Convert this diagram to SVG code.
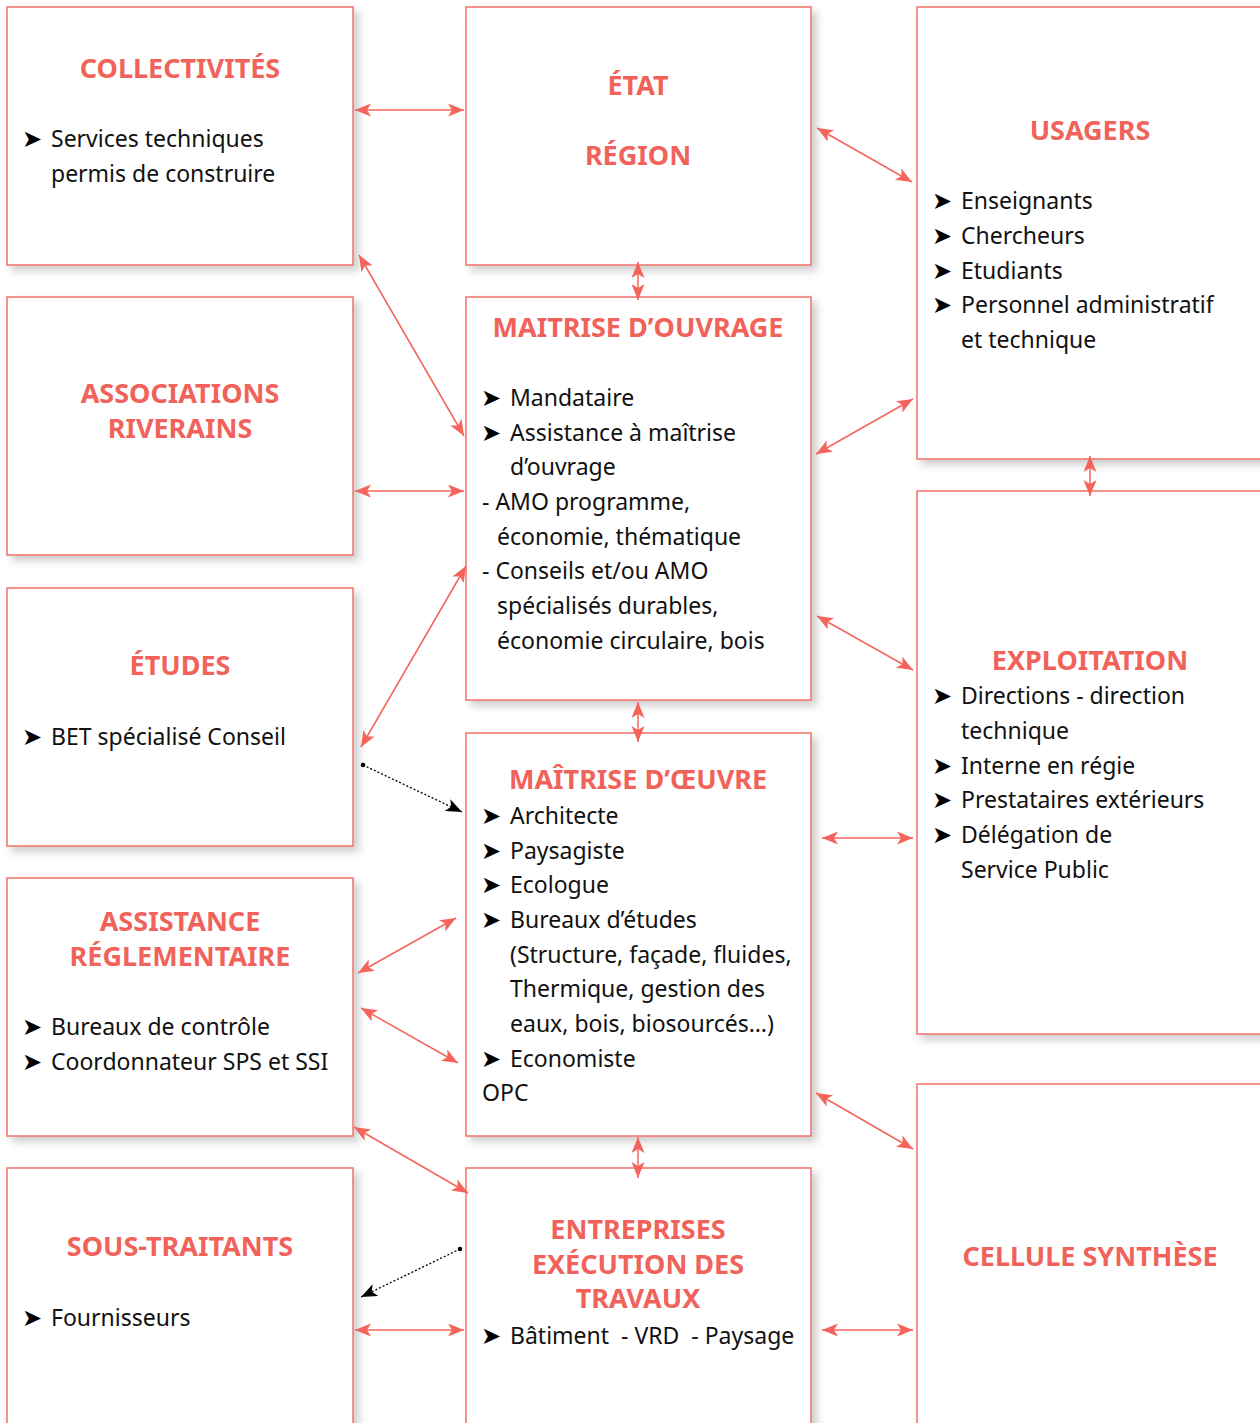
<svg xmlns="http://www.w3.org/2000/svg" width="1260" height="1423" viewBox="0 0 1260 1423">
<defs>
<style>
.box{fill:#fff;stroke:#f2706a;stroke-width:1.5;filter:url(#sh)}
.t{font-family:"Noto Sans","Open Sans",sans-serif;font-weight:bold;font-size:27px;fill:#f0625a;text-anchor:middle}
.b{font-family:"Noto Sans","Open Sans",sans-serif;font-size:23px;fill:#111}
.k{font-family:"DejaVu Sans",sans-serif;font-size:24px;fill:#000}
.c{fill:none;stroke:#f4645c;stroke-width:1.5;marker-start:url(#ah);marker-end:url(#ah)}
.d{fill:none;stroke:#000;stroke-width:1.3;stroke-dasharray:2 2;marker-end:url(#bh)}
</style>
<filter id="sh" x="-10%" y="-10%" width="130%" height="130%">
<feDropShadow dx="5" dy="5" stdDeviation="4" flood-color="#000" flood-opacity="0.2"/>
</filter>
<marker id="ah" markerUnits="userSpaceOnUse" markerWidth="17" markerHeight="14" refX="16" refY="6.5" orient="auto-start-reverse">
<path d="M0,0 L16,6.5 L0,13 L4,6.5 z" fill="#f4645c"/>
</marker>
<marker id="bh" markerUnits="userSpaceOnUse" markerWidth="17" markerHeight="14" refX="16" refY="6.5" orient="auto">
<path d="M0,0 L16,6.5 L0,13 L4,6.5 z" fill="#000"/>
</marker>
</defs>
<rect width="1260" height="1423" fill="#fff"/>

<g id="collectivites">
<rect class="box" x="7" y="7" width="346" height="258"/>
<text class="t" x="180" y="78">COLLECTIVITÉS</text>
<text class="b" x="22" y="147"><tspan class="k">➤</tspan><tspan x="51">Services techniques</tspan></text>
<text class="b" x="51" y="182">permis de construire</text>
</g>

<g id="etat">
<rect class="box" x="466" y="7" width="345" height="258"/>
<text class="t" x="638" y="95">ÉTAT</text>
<text class="t" x="638" y="165">RÉGION</text>
</g>

<g id="usagers">
<rect class="box" x="917" y="7" width="360" height="452"/>
<text class="t" x="1090" y="140">USAGERS</text>
<text class="b" x="932" y="209"><tspan class="k">➤</tspan><tspan x="961">Enseignants</tspan></text>
<text class="b" x="932" y="244"><tspan class="k">➤</tspan><tspan x="961">Chercheurs</tspan></text>
<text class="b" x="932" y="279"><tspan class="k">➤</tspan><tspan x="961">Etudiants</tspan></text>
<text class="b" x="932" y="313"><tspan class="k">➤</tspan><tspan x="961">Personnel administratif</tspan></text>
<text class="b" x="961" y="348">et technique</text>
</g>

<g id="associations">
<rect class="box" x="7" y="297" width="346" height="258"/>
<text class="t" x="180" y="403">ASSOCIATIONS</text>
<text class="t" x="180" y="438">RIVERAINS</text>
</g>

<g id="maitrise-ouvrage">
<rect class="box" x="466" y="297" width="345" height="403"/>
<text class="t" x="638" y="337">MAITRISE D’OUVRAGE</text>
<text class="b" x="481" y="406"><tspan class="k">➤</tspan><tspan x="510">Mandataire</tspan></text>
<text class="b" x="481" y="441"><tspan class="k">➤</tspan><tspan x="510">Assistance à maîtrise</tspan></text>
<text class="b" x="510" y="475">d’ouvrage</text>
<text class="b" x="482" y="510">- AMO programme,</text>
<text class="b" x="497" y="545">économie, thématique</text>
<text class="b" x="482" y="579">- Conseils et/ou AMO</text>
<text class="b" x="497" y="614">spécialisés durables,</text>
<text class="b" x="497" y="649">économie circulaire, bois</text>
</g>

<g id="etudes">
<rect class="box" x="7" y="588" width="346" height="258"/>
<text class="t" x="180" y="675">ÉTUDES</text>
<text class="b" x="22" y="745"><tspan class="k">➤</tspan><tspan x="51">BET spécialisé Conseil</tspan></text>
</g>

<g id="exploitation">
<rect class="box" x="917" y="491" width="360" height="543"/>
<text class="t" x="1090" y="670">EXPLOITATION</text>
<text class="b" x="932" y="704"><tspan class="k">➤</tspan><tspan x="961">Directions - direction</tspan></text>
<text class="b" x="961" y="739">technique</text>
<text class="b" x="932" y="774"><tspan class="k">➤</tspan><tspan x="961">Interne en régie</tspan></text>
<text class="b" x="932" y="808"><tspan class="k">➤</tspan><tspan x="961">Prestataires extérieurs</tspan></text>
<text class="b" x="932" y="843"><tspan class="k">➤</tspan><tspan x="961">Délégation de</tspan></text>
<text class="b" x="961" y="878">Service Public</text>
</g>

<g id="maitrise-oeuvre">
<rect class="box" x="466" y="733" width="345" height="403"/>
<text class="t" x="638" y="789">MAÎTRISE D’ŒUVRE</text>
<text class="b" x="481" y="824"><tspan class="k">➤</tspan><tspan x="510">Architecte</tspan></text>
<text class="b" x="481" y="859"><tspan class="k">➤</tspan><tspan x="510">Paysagiste</tspan></text>
<text class="b" x="481" y="893"><tspan class="k">➤</tspan><tspan x="510">Ecologue</tspan></text>
<text class="b" x="481" y="928"><tspan class="k">➤</tspan><tspan x="510">Bureaux d’études</tspan></text>
<text class="b" x="510" y="963">(Structure, façade, fluides,</text>
<text class="b" x="510" y="997">Thermique, gestion des</text>
<text class="b" x="510" y="1032">eaux, bois, biosourcés…)</text>
<text class="b" x="481" y="1067"><tspan class="k">➤</tspan><tspan x="510">Economiste</tspan></text>
<text class="b" x="482" y="1101">OPC</text>
</g>

<g id="assistance">
<rect class="box" x="7" y="878" width="346" height="258"/>
<text class="t" x="180" y="931">ASSISTANCE</text>
<text class="t" x="180" y="966">RÉGLEMENTAIRE</text>
<text class="b" x="22" y="1035"><tspan class="k">➤</tspan><tspan x="51">Bureaux de contrôle</tspan></text>
<text class="b" x="22" y="1070"><tspan class="k">➤</tspan><tspan x="51">Coordonnateur SPS et SSI</tspan></text>
</g>

<g id="sous-traitants">
<rect class="box" x="7" y="1168" width="346" height="280"/>
<text class="t" x="180" y="1256">SOUS-TRAITANTS</text>
<text class="b" x="22" y="1326"><tspan class="k">➤</tspan><tspan x="51">Fournisseurs</tspan></text>
</g>

<g id="entreprises">
<rect class="box" x="466" y="1168" width="345" height="280"/>
<text class="t" x="638" y="1239">ENTREPRISES</text>
<text class="t" x="638" y="1274">EXÉCUTION DES</text>
<text class="t" x="638" y="1308">TRAVAUX</text>
<text class="b" x="481" y="1344"><tspan class="k">➤</tspan><tspan x="510" xml:space="preserve">Bâtiment  - VRD  - Paysage</tspan></text>
</g>

<g id="cellule-synthese">
<rect class="box" x="917" y="1084" width="360" height="364"/>
<text class="t" x="1090" y="1266">CELLULE SYNTHÈSE</text>
</g>

<g id="connectors">
<line class="c" x1="355" y1="110" x2="464" y2="110"/>
<line class="c" x1="817" y1="128" x2="912" y2="182"/>
<line class="c" x1="638" y1="262" x2="638" y2="300"/>
<line class="c" x1="359" y1="255" x2="464" y2="436"/>
<line class="c" x1="355" y1="491" x2="464" y2="491"/>
<line class="c" x1="816" y1="454" x2="913" y2="399"/>
<line class="c" x1="1090" y1="456" x2="1090" y2="496"/>
<line class="c" x1="361" y1="747" x2="466" y2="566"/>
<line class="c" x1="817" y1="616" x2="913" y2="670"/>
<line class="c" x1="638" y1="702" x2="638" y2="742"/>
<line class="c" x1="822" y1="838" x2="913" y2="838"/>
<line class="c" x1="358" y1="973" x2="456" y2="918"/>
<line class="c" x1="361" y1="1008" x2="458" y2="1063"/>
<line class="c" x1="354" y1="1127" x2="468" y2="1193"/>
<line class="c" x1="816" y1="1093" x2="913" y2="1149"/>
<line class="c" x1="638" y1="1137" x2="638" y2="1178"/>
<line class="c" x1="355" y1="1330" x2="464" y2="1330"/>
<line class="c" x1="822" y1="1330" x2="913" y2="1330"/>
<line class="d" x1="363" y1="765" x2="462" y2="812"/>
<circle cx="363" cy="765" r="2.3" fill="#000"/>
<line class="d" x1="460" y1="1249" x2="361" y2="1297"/>
<circle cx="460" cy="1249" r="2.3" fill="#000"/>
</g>
</svg>
